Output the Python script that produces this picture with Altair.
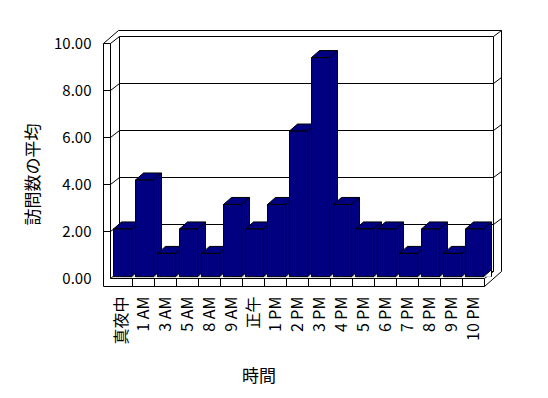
import json
import altair as alt
import pandas as pd

# ---- data ----
categories = ["真夜中", "1 AM", "3 AM", "5 AM", "8 AM", "9 AM", "正午", "1 PM", "2 PM",
              "3 PM", "4 PM", "5 PM", "6 PM", "7 PM", "8 PM", "9 PM", "10 PM"]
visits = [2, 4, 1, 2, 1, 3, 2, 3, 6, 9, 3, 2, 2, 1, 2, 1, 2]
y_ticks = [0, 2, 4, 6, 8, 10]

NAVY = "#000080"
FONT = "Noto Sans CJK JP"

N = len(categories)
BAND = 22                      # px per category
W = BAND * N                   # plot width (front plane)
H = 235                        # plot height (0..10)
PXX = W / N
PXY = H / 10.0


def ux(p):
    return p / PXX


def uy(p):
    return p / PXY


# 3-D frame geometry (pixel offsets converted to scale units)
dX, dY = ux(9), uy(7)           # depth of the box
lw = ux(7)                      # left wall thickness
fl = uy(8)                      # floor thickness
rX, rY = ux(8), uy(6)           # back/right wall thickness
top_out = 10 + dY + rY
right_out = N + dX + rX

segs = []


def seg(x, y, x2, y2):
    segs.append({"x": x, "y": y, "x2": x2, "y2": y2})


seg(-lw, -fl, -lw, 10)                       # outer left
seg(-lw, 10, -lw + ux(15), top_out)          # outer top-left diagonal
seg(-lw + ux(15), top_out, right_out, top_out)  # outer top
seg(right_out, top_out, right_out, uy(7))    # outer right
seg(right_out, uy(7), N, -fl)                # outer bottom-right diagonal
seg(-lw, -fl, N, -fl)                        # floor bottom
seg(0, 0, N, 0)                              # floor front edge
seg(N, 0, N, -fl)                            # floor right edge
seg(0, 0, 0, 10)                             # left wall inner front
seg(dX, dY, dX, 10 + dY)                     # back wall left
seg(N + dX, dY, N + dX, 10 + dY)             # back wall right
seg(N, 0, N + dX, dY)                        # inner bottom-right diagonal
seg(0, 0, dX, dY)                            # inner bottom-left diagonal
for k in y_ticks:
    seg(dX, k + dY, N + dX, k + dY)          # gridline on back wall
    if k > 0:
        seg(-lw, k, 0, k)                    # tick across left wall
        seg(0, k, dX, k + dY)                # diagonal on left wall
        seg(N + dX, k + dY, right_out, k + dY + rY)  # diagonal on right wall
for j in range(1, N):
    seg(j, 0, j, -fl)                        # category cells on floor front

frame_df = pd.DataFrame(segs)

bars_df = pd.DataFrame({
    "cat": categories,
    "v": visits,
    "x0": [i + ux(3) for i in range(N)],
    "x1": [i + ux(21) for i in range(N)],
    "zero": [0] * N,
})

xscale = alt.Scale(domain=[0, N], nice=False, zero=False)
yscale = alt.Scale(domain=[0, 10], nice=False, zero=False)
bar_y = alt.Scale(domain=[0, 10], range=[234.4, -10.4], nice=False, zero=False)

label_expr = json.dumps(categories, ensure_ascii=False) + "[floor(datum.value)]"

xaxis = alt.Axis(values=[i + 0.5 for i in range(N)], labelExpr=label_expr,
                 labelAngle=270, labelPadding=17.5, ticks=False, domain=False,
                 grid=False, labelFont=FONT, labelFontSize=16, labelColor="black",
                 labelOverlap=False, titleFont=FONT, titleFontSize=17,
                 titleFontWeight="normal", titleColor="black",
                 titleX=148, titleY=97.5, titleAlign="center",
                 titleBaseline="middle")
XT = "時間"


def X(field):
    return alt.X(field, scale=xscale, axis=xaxis, title=XT)


frame = alt.Chart(frame_df).mark_rule(color="black", strokeWidth=1).encode(
    x=X("x:Q"),
    x2="x2:Q",
    y=alt.Y("y:Q", scale=yscale, title="訪問数の平均",
            axis=alt.Axis(values=y_ticks, format=".2f", ticks=False, domain=False,
                          grid=False, labelPadding=19.5, labelFont=FONT, labelFontSize=15,
                          labelColor="black", titleFont=FONT, titleFontSize=17,
                          titleFontWeight="normal", titleColor="black",
                          titleX=-77.5, titleY=130.5, titleAngle=270,
                          titleAlign="center", titleBaseline="middle")),
    y2="y2:Q",
)

base = alt.Chart(bars_df)

back = base.mark_rect(color=NAVY, strokeWidth=0, xOffset=8, x2Offset=8,
                      yOffset=-7, y2Offset=-1.2).encode(
    x=X("x0:Q"), x2="x1:Q",
    y=alt.Y("v:Q", scale=bar_y, axis=None), y2="zero:Q")

edge = base.mark_rule(color="black", strokeWidth=1, xOffset=8,
                      yOffset=-7, y2Offset=-8.2).encode(
    x=X("x1:Q"),
    y=alt.Y("v:Q", scale=bar_y, axis=None), y2="zero:Q")

tri = base.mark_point(shape="M0.8,0 L0.8,-0.7 L0,0", size=400, filled=True,
                      fill="white", stroke="black", strokeWidth=1, opacity=1,
                      yOffset=-1.2).encode(
    x=X("x1:Q"),
    y=alt.Y("zero:Q", scale=bar_y, axis=None))

tops = base.mark_point(shape="M0,0 L1.8,0 L2.6,-0.7 L0.8,-0.7 Z", size=400, filled=True,
                       fill=NAVY, stroke="black", strokeWidth=1, opacity=1).encode(
    x=X("x0:Q"),
    y=alt.Y("v:Q", scale=bar_y, axis=None))

fronts = base.mark_rect(color=NAVY, stroke="black", strokeWidth=1,
                        y2Offset=-1.2).encode(
    x=X("x0:Q"), x2="x1:Q",
    y=alt.Y("v:Q", scale=bar_y, axis=None), y2="zero:Q")

chart = alt.layer(frame, back, edge, tri, tops, fronts).resolve_scale(
    y="independent"
).properties(
    width=W, height=H, autosize="none",
    padding={"left": 102.5, "top": 35.5, "right": 55.5, "bottom": 111.5},
    background="white",
).configure_view(stroke=None)

chart.save("out.html", embed_options={"renderer": "svg", "actions": False})
